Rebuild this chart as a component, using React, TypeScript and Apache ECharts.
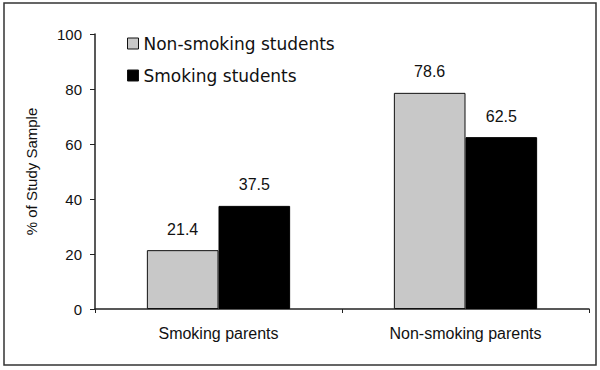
import React, { useEffect, useRef } from "react";
import * as echarts from "echarts";

const categories = ["Smoking parents", "Non-smoking parents"];
const nonSmokingStudents = [21.4, 78.6];
const smokingStudents = [37.5, 62.5];
const seriesNames = ["Non-smoking students", "Smoking students"];
const yTicks = { min: 0, max: 100, interval: 20 };

const FONT = "'Liberation Sans', Arial, sans-serif";

export default function App() {
  const ref = useRef<HTMLDivElement>(null);
  useEffect(() => {
    if (!ref.current) return;
    const chart = echarts.init(ref.current, null, { renderer: "svg" });
    const labelCfg = {
      show: true,
      position: "top",
      distance: 13,
      fontFamily: FONT,
      fontSize: 16,
      color: "#111",
      formatter: (p: any) => p.value.toFixed(1),
    };
    chart.setOption({
      animation: false,
      backgroundColor: "#fff",
      graphic: [
        {
          type: "rect",
          shape: { x: 4, y: 3, width: 592, height: 362 },
          style: { fill: "none", stroke: "#333", lineWidth: 1.5 },
          silent: true,
        },
      ],
      legend: {
        orient: "vertical",
        left: 122,
        top: 30,
        itemWidth: 11,
        itemHeight: 11,
        itemGap: 15,
        itemStyle: { borderWidth: 1, borderColor: "#111" },
        icon: "rect",
        textStyle: { fontFamily: "'DejaVu Sans', sans-serif", fontSize: 17, color: "#111" },
        data: seriesNames,
      },
      grid: { left: 95, right: 11, top: 34, bottom: 61 },
      xAxis: {
        type: "category",
        data: categories,
        axisLine: { lineStyle: { color: "#222", width: 1.5 } },
        axisTick: { show: true, interval: 0, length: 4, alignWithLabel: false, lineStyle: { color: "#222" } },
        axisLabel: { fontFamily: FONT, fontSize: 16, color: "#111", margin: 16 },
      },
      yAxis: {
        type: "value",
        min: yTicks.min,
        max: yTicks.max,
        interval: yTicks.interval,
        name: "% of Study Sample",
        nameLocation: "middle",
        nameGap: 56,
        nameTextStyle: { fontFamily: FONT, fontSize: 15, color: "#111" },
        axisLine: { show: true, lineStyle: { color: "#222", width: 1.5 } },
        axisTick: { show: true, length: 5, lineStyle: { color: "#222" } },
        axisLabel: { fontFamily: FONT, fontSize: 15, color: "#111", margin: 13 },
        splitLine: { show: false },
      },
      series: [
        {
          name: seriesNames[0],
          type: "bar",
          data: nonSmokingStudents,
          barGap: "0%",
          barCategoryGap: "42%",
          itemStyle: { color: "#c8c8c8", borderColor: "#111", borderWidth: 1 },
          label: labelCfg,
        },
        {
          name: seriesNames[1],
          type: "bar",
          data: smokingStudents,
          barGap: "0%",
          barCategoryGap: "42%",
          itemStyle: { color: "#000", borderColor: "#000", borderWidth: 1 },
          label: labelCfg,
        },
      ],
    });
    return () => chart.dispose();
  }, []);
  return (
    <div
      ref={ref}
      style={{ position: "absolute", left: 0, top: 0, width: 600, height: 370 }}
    />
  );
}
